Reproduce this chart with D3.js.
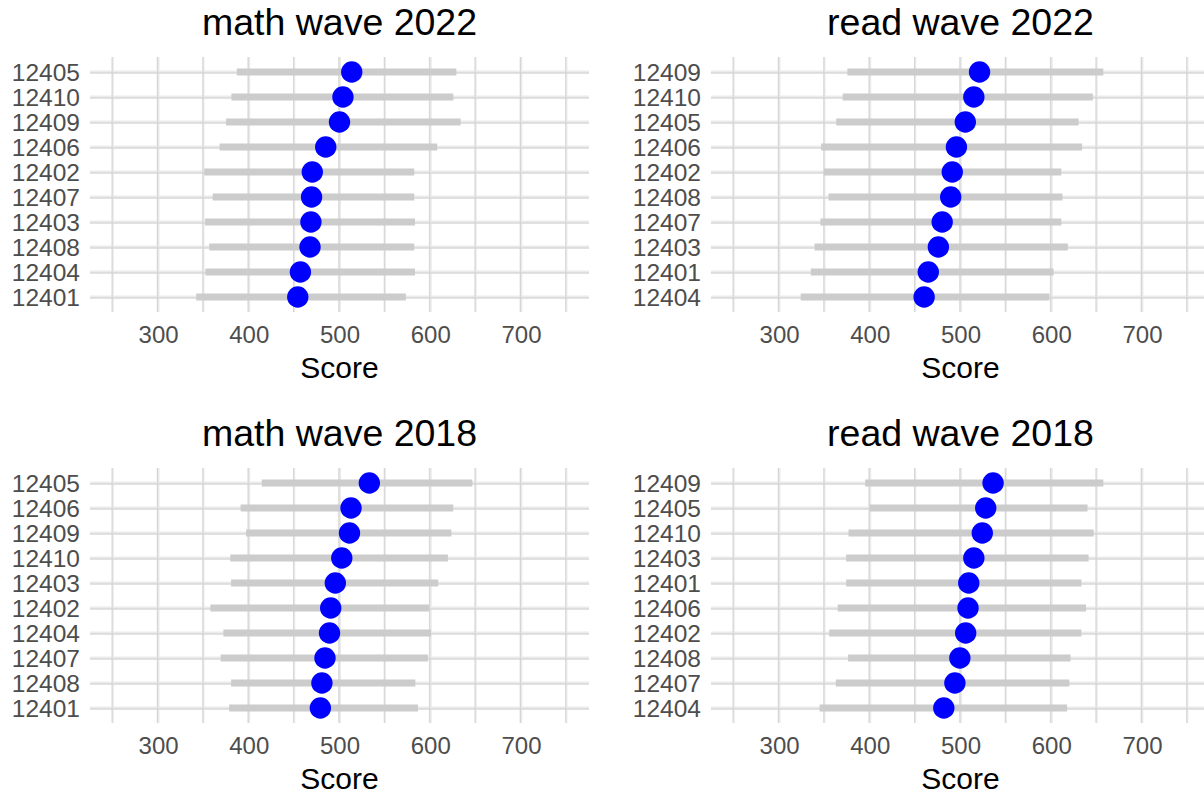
<!DOCTYPE html>
<html>
<head>
<meta charset="utf-8">
<script src="https://cdn.jsdelivr.net/npm/d3@7/dist/d3.min.js"></script>
<style>
  html, body { margin: 0; padding: 0; background: #ffffff; }
  svg { display: block; font-family: "Liberation Sans", Arial, Helvetica, sans-serif; }
</style>
</head>
<body>
<svg id="chart" width="1204" height="795"></svg>
<script>
// ---- data (categories listed top to bottom) ----
const titles = ["math wave 2022", "read wave 2022", "math wave 2018", "read wave 2018"];

const mathCats2022 = ["12405","12410","12409","12406","12402","12407","12403","12408","12404","12401"];
const mathMean2022 = [513.5, 503.8, 500.0, 484.8, 470.0, 469.2, 468.5, 467.5, 456.9, 454.0];
const mathLow2022  = [386.8, 380.9, 375.0, 367.8, 350.9, 360.2, 351.8, 356.4, 352.2, 342.1];
const mathHigh2022 = [628.8, 625.4, 633.5, 607.7, 582.4, 582.4, 583.2, 582.4, 583.2, 573.1];

const readCats2022 = ["12409","12410","12405","12406","12402","12408","12407","12403","12401","12404"];
const readMean2022 = [521.0, 514.7, 505.3, 495.5, 490.9, 489.2, 479.8, 475.6, 464.5, 459.9];
const readLow2022  = [375.3, 370.2, 363.0, 346.4, 349.4, 354.5, 345.6, 339.2, 335.0, 323.9];
const readHigh2022 = [657.4, 645.9, 630.2, 634.0, 611.1, 612.4, 611.1, 618.3, 602.6, 597.9];

const mathCats2018 = ["12405","12406","12409","12410","12403","12402","12404","12407","12408","12401"];
const mathMean2018 = [532.9, 512.7, 511.0, 502.5, 495.4, 490.3, 489.0, 484.0, 480.6, 478.9];
const mathLow2018  = [414.3, 391.0, 397.0, 379.6, 380.5, 357.7, 372.0, 369.0, 380.5, 378.4];
const mathHigh2018 = [646.5, 625.4, 623.3, 619.5, 608.9, 598.8, 600.9, 597.5, 583.6, 586.5];

const readCats2018 = ["12409","12405","12410","12403","12401","12406","12402","12408","12407","12404"];
const readMean2018 = [535.9, 527.8, 524.0, 514.7, 509.1, 508.3, 505.7, 499.3, 493.8, 481.6];
const readLow2018  = [394.9, 400.0, 376.6, 374.0, 374.0, 364.7, 355.3, 376.1, 362.6, 344.7];
const readHigh2018 = [657.4, 640.0, 646.8, 641.2, 633.2, 638.3, 633.2, 621.3, 620.0, 617.5];

const xTickValues  = [300, 400, 500, 600, 700];
const xMinorValues = [250, 350, 450, 550, 650, 750];
const xDomain = [225, 775];
const xLabel = "Score";

// ---- layout ----
const panels = [
  { title: titles[0], cats: mathCats2022, mean: mathMean2022, low: mathLow2022, high: mathHigh2022, left: 90,  top: 57 },
  { title: titles[1], cats: readCats2022, mean: readMean2022, low: readLow2022, high: readHigh2022, left: 711, top: 57 },
  { title: titles[2], cats: mathCats2018, mean: mathMean2018, low: mathLow2018, high: mathHigh2018, left: 90,  top: 468 },
  { title: titles[3], cats: readCats2018, mean: readMean2018, low: readLow2018, high: readHigh2018, left: 711, top: 468 }
];
const PW = 499, PH = 255;

const svg = d3.select("#chart");
svg.append("rect").attr("width", 1204).attr("height", 795).attr("fill", "#ffffff");

panels.forEach(p => {
  const g = svg.append("g");
  const x = d3.scaleLinear().domain(xDomain).range([p.left, p.left + PW]);
  const y = d3.scalePoint().domain(p.cats).range([p.top, p.top + PH]).padding(0.6);
  const allX = xTickValues.concat(xMinorValues);

  // grid: light bands
  g.selectAll(".vband").data(allX).join("line")
    .attr("x1", d => x(d)).attr("x2", d => x(d))
    .attr("y1", p.top).attr("y2", p.top + PH)
    .attr("stroke", "#ebebeb").attr("stroke-width", d => xTickValues.includes(d) ? 3 : 2.2);
  g.selectAll(".hband").data(p.cats).join("line")
    .attr("x1", p.left).attr("x2", p.left + PW)
    .attr("y1", d => y(d)).attr("y2", d => y(d))
    .attr("stroke", "#ebebeb").attr("stroke-width", 3);
  // grid: thin darker lines
  g.selectAll(".vline").data(allX).join("line")
    .attr("x1", d => x(d) - 0.5).attr("x2", d => x(d) - 0.5)
    .attr("y1", p.top).attr("y2", p.top + PH)
    .attr("stroke", "#d4d4d4").attr("stroke-width", 1);
  g.selectAll(".hline").data(p.cats).join("line")
    .attr("x1", p.left).attr("x2", p.left + PW)
    .attr("y1", d => y(d) + 1).attr("y2", d => y(d) + 1)
    .attr("stroke", "#cfcfcf").attr("stroke-width", 1);

  // range bars
  g.selectAll(".bar").data(p.cats).join("line")
    .attr("x1", (d, i) => x(p.low[i])).attr("x2", (d, i) => x(p.high[i]))
    .attr("y1", d => y(d)).attr("y2", d => y(d))
    .attr("stroke", "#cccccc").attr("stroke-width", 7);

  // points
  g.selectAll(".dot").data(p.cats).join("circle")
    .attr("cx", (d, i) => x(p.mean[i])).attr("cy", d => y(d))
    .attr("r", 10.7).attr("fill", "#0000ff");

  // y axis
  const ya = g.append("g").attr("transform", `translate(${p.left - 10},0)`)
    .call(d3.axisLeft(y).tickSize(0).tickPadding(0));
  ya.select(".domain").remove();
  ya.selectAll("text").attr("font-size", 24.5).attr("fill", "#4d4d4d")
    .attr("font-family", "Liberation Sans, Arial, sans-serif").attr("dy", "0.36em");

  // x axis
  const xa = g.append("g").attr("transform", `translate(0,${p.top + PH})`)
    .call(d3.axisBottom(x).tickValues(xTickValues).tickSize(0).tickPadding(0).tickFormat(d3.format("d")));
  xa.select(".domain").remove();
  xa.selectAll("text").attr("font-size", 24).attr("fill", "#4d4d4d")
    .attr("font-family", "Liberation Sans, Arial, sans-serif").attr("dy", null).attr("y", 31);

  // axis title
  g.append("text").attr("x", p.left + PW / 2).attr("y", p.top + PH + 66)
    .attr("text-anchor", "middle").attr("font-size", 30).attr("fill", "#000")
    .text(xLabel);

  // panel title
  g.append("text").attr("x", p.left + PW / 2).attr("y", p.top - 22)
    .attr("text-anchor", "middle").attr("font-size", 37.5).attr("fill", "#000")
    .text(p.title);
});
</script>
</body>
</html>
